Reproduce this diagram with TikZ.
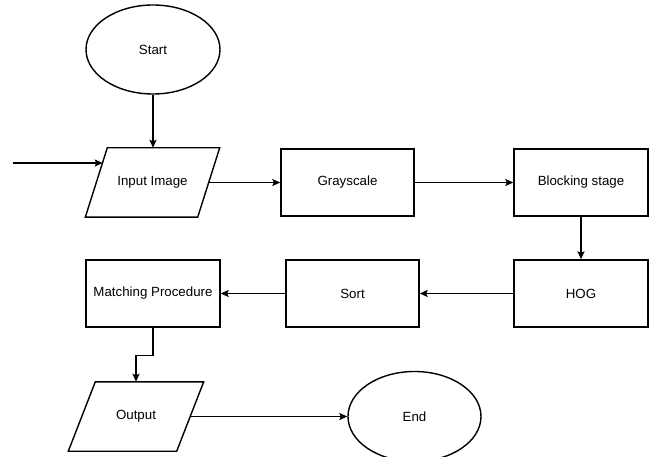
\documentclass[tikz,border=0pt]{standalone}
\usepackage{fontspec}
\setmainfont{Liberation Sans}
\usetikzlibrary{shapes.geometric,arrows.meta,calc}
\begin{document}
\begin{tikzpicture}[x=1pt,y=-1pt,
  line width=1.4pt,
  every node/.style={font=\fontsize{13.3}{15}\selectfont, text=black, inner sep=0pt},
  box/.style={draw, rectangle, minimum width=134pt, minimum height=67pt},
  term/.style={draw, ellipse, minimum width=134pt, minimum height=89pt},
  iobody/.style={rectangle, minimum height=68pt},
  arr/.style={-{Stealth[length=8pt,width=7pt,inset=1.5pt]}}]
\clip (0,0) rectangle (653,457);
\node[term] (start) at (153,49.5) {Start};
\node[iobody, minimum width=111pt] (input) at (152.5,182.5) {Input Image};
\draw ([xshift=-11pt]input.south west) -- ([xshift=11pt]input.north west)
  -- ([xshift=11pt]input.north east) -- ([xshift=-11pt]input.south east) -- cycle;
\node[box, minimum width=133pt] (gray) at (347.5,182.5) {Grayscale};
\node[box] (block) at (581,182.5) {Blocking stage};
\node[box] (hog) at (581,293.5) {HOG};
\node[box, minimum width=133pt] (sort) at (352.5,293.5) {Sort};
\node[box] (match) at (153,293.5) {Matching Procedure};
\node[iobody, minimum width=107pt] (output) at (136,416.5) {Output};
\draw ([xshift=-13.5pt]output.south west) -- ([xshift=13.5pt]output.north west)
  -- ([xshift=13.5pt]output.north east) -- ([xshift=-13.5pt]output.south east) -- cycle;
\node[term, minimum width=133pt, minimum height=90pt] (end) at (414.5,416.5) {End};

\coordinate (inhit) at ($(input.west)+(6.4,-19.5)$);
\coordinate (src) at ([xshift=-90pt]inhit);

\draw[arr] (start.south) -- (start.south |- input.north);
\draw[arr] (src) -- (inhit);
\draw[arr] (input.east) -- (gray.west);
\draw[arr] (gray.east) -- (block.west);
\draw[arr] (block.south) -- (hog.north);
\draw[arr] (hog.west) -- (sort.east);
\draw[arr] (sort.west) -- (match.east);
\draw[arr] (match.south) -- ++(0,28) -| (output.north);
\draw[arr] (output.east) -- (end.west);
\end{tikzpicture}
\end{document}
